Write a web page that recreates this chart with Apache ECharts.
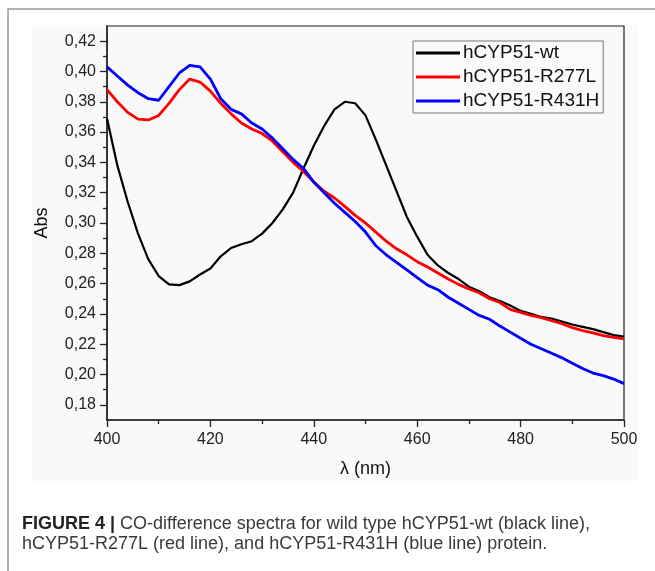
<!DOCTYPE html>
<html>
<head>
<meta charset="utf-8">
<script src="https://cdn.jsdelivr.net/npm/echarts@6/dist/echarts.min.js"></script>
<style>
  html, body { margin: 0; padding: 0; background: #fff; }
  #chart { width: 655px; height: 571px; }
</style>
</head>
<body>
<div id="chart"></div>
<script>
// wavelength grid (nm)
var wavelengths = [400, 402, 404, 406, 408, 410, 412, 414, 416, 418,
                   420, 422, 424, 426, 428, 430, 432, 434, 436, 438,
                   440, 442, 444, 446, 448, 450, 452, 454, 456, 458,
                   460, 462, 464, 466, 468, 470, 472, 474, 476, 478,
                   480, 482, 484, 486, 488, 490, 492, 494, 496, 498, 500];

var absWt = [0.369, 0.338, 0.314, 0.293, 0.276, 0.265, 0.2595, 0.259, 0.2615, 0.266,
             0.270, 0.278, 0.2835, 0.286, 0.288, 0.293, 0.300, 0.309, 0.320, 0.336,
             0.351, 0.364, 0.375, 0.380, 0.379, 0.371, 0.355, 0.338, 0.321, 0.304,
             0.291, 0.279, 0.272, 0.267, 0.263, 0.258, 0.255, 0.251, 0.2485, 0.2455,
             0.242, 0.240, 0.238, 0.237, 0.235, 0.233, 0.2315, 0.230, 0.228, 0.226, 0.225];

var absR277L = [0.388, 0.380, 0.373, 0.3685, 0.368, 0.371, 0.379, 0.388, 0.395, 0.393,
                0.387, 0.379, 0.372, 0.366, 0.362, 0.359, 0.354, 0.347, 0.340, 0.334,
                0.327, 0.321, 0.3165, 0.311, 0.305, 0.300, 0.294, 0.288, 0.283, 0.279,
                0.2745, 0.271, 0.267, 0.263, 0.2595, 0.2565, 0.254, 0.250, 0.2475, 0.243,
                0.241, 0.239, 0.2375, 0.2355, 0.2335, 0.231, 0.229, 0.2275, 0.2257, 0.2245, 0.2235];

var absR431H = [0.403, 0.397, 0.391, 0.386, 0.382, 0.381, 0.390, 0.399, 0.404, 0.403,
                0.395, 0.382, 0.375, 0.372, 0.366, 0.362, 0.356, 0.349, 0.342, 0.336,
                0.327, 0.320, 0.313, 0.307, 0.301, 0.294, 0.285, 0.279, 0.274, 0.269,
                0.264, 0.259, 0.256, 0.251, 0.247, 0.243, 0.239, 0.2365, 0.232, 0.228,
                0.224, 0.220, 0.217, 0.214, 0.211, 0.2075, 0.204, 0.201, 0.1993, 0.197, 0.194];

var seriesNames = ['hCYP51-wt', 'hCYP51-R277L', 'hCYP51-R431H'];
var yMajorTicks = [0.18, 0.20, 0.22, 0.24, 0.26, 0.28, 0.30, 0.32, 0.34, 0.36, 0.38, 0.40, 0.42];
var yMinorTicks = [0.19, 0.21, 0.23, 0.25, 0.27, 0.29, 0.31, 0.33, 0.35, 0.37, 0.39, 0.41];

function pairs(vals) {
    return wavelengths.map(function (w, i) { return [w, vals[i]]; });
}

var myChart = echarts.init(document.getElementById('chart'));
var font = 'Liberation Sans, Arial, sans-serif';

var option = {
    animation: false,
    textStyle: { fontFamily: font },
    color: ['#000000', '#ff0000', '#0000ff'],
    grid: {
        left: 107, right: 31, top: 26, bottom: 151,
        show: true,
        backgroundColor: '#f9f9f9',
        borderColor: '#222',
        borderWidth: 1.2
    },
    legend: {
        orient: 'vertical',
        left: 413,
        top: 41,
        padding: [2, 4, 2, 3],
        itemWidth: 44,
        itemHeight: 3,
        itemGap: 4,
        icon: 'rect',
        borderColor: '#777',
        borderWidth: 1,
        backgroundColor: '#fafafa',
        textStyle: { fontSize: 19, color: '#111', lineHeight: 20, padding: [0, 0, 0, -2] },
        data: seriesNames
    },
    xAxis: {
        type: 'value',
        min: 400, max: 500, interval: 20,
        name: 'λ (nm)',
        nameLocation: 'middle',
        nameGap: 40,
        nameTextStyle: { fontSize: 18, color: '#111' },
        axisLine: { lineStyle: { color: '#222', width: 1.5 } },
        axisTick: { length: 7, lineStyle: { color: '#222', width: 1.3 } },
        minorTick: { show: true, splitNumber: 2, length: 4, lineStyle: { color: '#222', width: 1.3 } },
        axisLabel: { fontSize: 16, color: '#222', margin: 12 },
        splitLine: { show: false }
    },
    yAxis: [{
        type: 'value',
        min: 0.17, max: 0.43,
        name: 'Abs',
        nameLocation: 'middle',
        nameGap: 56,
        nameTextStyle: { fontSize: 18, color: '#111' },
        axisLine: { show: true, lineStyle: { color: '#222', width: 1.5 } },
        axisTick: { show: true, length: 7, customValues: yMajorTicks, lineStyle: { color: '#222', width: 1.3 } },
        axisLabel: {
            fontSize: 16, color: '#222', margin: 11,
            customValues: yMajorTicks,
            formatter: function (v) { return v.toFixed(2).replace('.', ','); }
        },
        splitLine: { show: false }
    }, {
        type: 'value',
        position: 'left',
        min: 0.17, max: 0.43,
        axisLine: { show: false },
        axisTick: { show: true, length: 4, customValues: yMinorTicks, lineStyle: { color: '#222', width: 1.3 } },
        axisLabel: { show: false },
        splitLine: { show: false }
    }],
    graphic: [
        {
            type: 'rect', z: -10, silent: true,
            shape: { x: 32, y: 25, width: 605, height: 456 },
            style: { fill: '#f9f9f9' }
        },
        {
            type: 'polyline', z: -10, silent: true,
            shape: { points: [[8, 571], [8, 9], [655, 9]] },
            style: { stroke: '#999', lineWidth: 1.5, fill: null }
        },
        {
            type: 'text', left: 22, top: 514,
            style: {
                text: '{b|FIGURE 4 |} CO-difference spectra for wild type hCYP51-wt (black line),\nhCYP51-R277L (red line), and hCYP51-R431H (blue line) protein.',
                font: '18px ' + font,
                fill: '#3a3a3a',
                lineHeight: 20,
                rich: {
                    b: { fontWeight: 'bold', fontSize: 18, fill: '#222', fontFamily: font, lineHeight: 20 }
                }
            }
        }
    ],
    series: [
        { name: seriesNames[0], type: 'line', showSymbol: false, data: pairs(absWt),
          lineStyle: { width: 2.2, color: '#000' } },
        { name: seriesNames[1], type: 'line', showSymbol: false, data: pairs(absR277L),
          lineStyle: { width: 2.8, color: '#ff0000' } },
        { name: seriesNames[2], type: 'line', showSymbol: false, data: pairs(absR431H),
          lineStyle: { width: 2.8, color: '#0000ff' } }
    ]
};

myChart.setOption(option);
</script>
</body>
</html>
